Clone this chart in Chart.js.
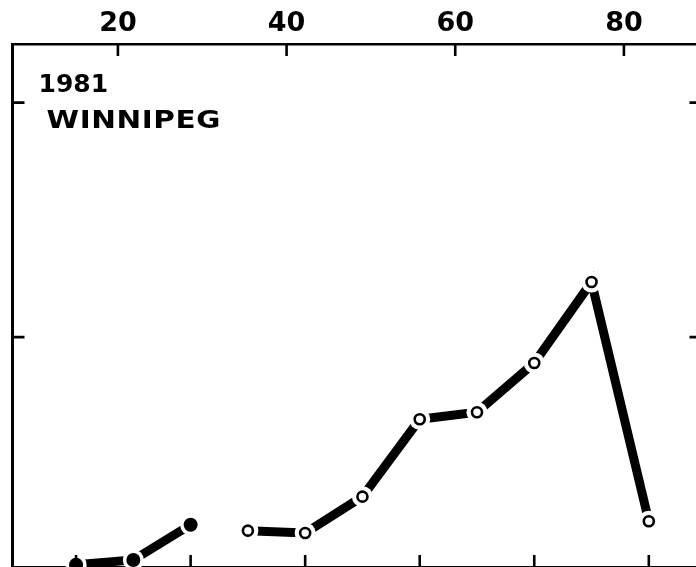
<!DOCTYPE html>
<html>
<head>
<meta charset="utf-8">
<script src="https://cdn.jsdelivr.net/npm/chart.js@4/dist/chart.umd.min.js"></script>
<style>
  html, body { margin: 0; padding: 0; overflow: hidden; background: #fff; width: 696px; height: 567px; }
  canvas { position: absolute; left: 0; top: 0; }
</style>
</head>
<body>
<canvas id="c" width="712" height="580"></canvas>
<script>
// Sample number along the bottom scale and the measured level at each sample
const earlySamples = [1, 2, 3];
const earlyValues = [0.03, 0.05, 0.20];
const lateSamples = [4, 5, 6, 7, 8, 9, 10, 11];
const lateValues = [0.175, 0.165, 0.32, 0.65, 0.68, 0.89, 1.235, 0.215];

// Tick positions on each frame side
const sampleTicks = [1, 3, 5, 7, 9, 11];
const topTicks = [20, 40, 60, 80];
const levelTicks = [1, 2];

const titleLines = ['1981', 'WINNIPEG'];

const INK = '#000';
const PAPER = '#fff';
const TICK_LEN = 12;

function pts(xs, ys) {
  return xs.map((x, i) => ({ x: x, y: ys[i] }));
}

function setTicks(list) {
  return scale => { scale.ticks = list.map(v => ({ value: v })); };
}

// Inward tick marks on all four sides of the frame
const innerTicks = {
  id: 'innerTicks',
  afterDatasetsDraw(chart) {
    const { ctx, chartArea: a, scales } = chart;
    ctx.save();
    ctx.strokeStyle = INK;
    ctx.lineWidth = 2.6;
    ctx.lineCap = 'butt';
    ctx.beginPath();
    sampleTicks.forEach(v => {
      const px = scales.x.getPixelForValue(v);
      ctx.moveTo(px, a.bottom); ctx.lineTo(px, a.bottom - TICK_LEN);
    });
    topTicks.forEach(v => {
      const px = scales.x2.getPixelForValue(v);
      ctx.moveTo(px, a.top); ctx.lineTo(px, a.top + TICK_LEN);
    });
    levelTicks.forEach(v => {
      const py = scales.y.getPixelForValue(v);
      ctx.moveTo(a.left, py); ctx.lineTo(a.left + TICK_LEN, py);
      ctx.moveTo(a.right, py); ctx.lineTo(a.right - TICK_LEN, py);
    });
    ctx.stroke();
    ctx.restore();
  }
};

// Station label in the upper left corner of the frame
const stationLabel = {
  id: 'stationLabel',
  afterDatasetsDraw(chart) {
    const { ctx, chartArea: a } = chart;
    ctx.save();
    ctx.fillStyle = INK;
    ctx.textAlign = 'left';
    ctx.textBaseline = 'alphabetic';
    ctx.font = 'bold 25px "DejaVu Sans"';
    ctx.fillText(titleLines[0], a.left + 26, 92);
    ctx.translate(a.left + 34, 128);
    ctx.scale(1.18, 1);
    ctx.letterSpacing = '0.5px';
    ctx.fillText(titleLines[1], 0, 0);
    ctx.restore();
  }
};

const sideAxis = (position, width) => ({
  type: 'linear',
  position: position,
  min: 0.02,
  max: 2.25,
  grid: { display: false },
  border: { display: true, color: INK, width: 3 },
  ticks: { display: false },
  afterBuildTicks: setTicks(levelTicks),
  afterFit: s => { s.width = width; }
});

const lineSet = (xs, ys) => ({
  data: pts(xs, ys),
  borderColor: INK, borderWidth: 9, borderCapStyle: 'butt', borderJoinStyle: 'miter',
  pointRadius: 0, tension: 0, order: 3, xAxisID: 'x', yAxisID: 'y'
});

// White disc under each marker that opens a small gap in the line
const haloSet = (xs, ys) => ({
  data: pts(xs, ys),
  showLine: false,
  pointRadius: 10.5, pointBackgroundColor: PAPER, pointBorderWidth: 0,
  order: 2, xAxisID: 'x', yAxisID: 'y'
});

new Chart(document.getElementById('c'), {
  type: 'line',
  data: {
    datasets: [
      lineSet(earlySamples, earlyValues),
      lineSet(lateSamples, lateValues),
      haloSet(earlySamples, earlyValues),
      haloSet(lateSamples, lateValues),
      {
        data: pts(earlySamples, earlyValues),
        showLine: false,
        pointRadius: 7, pointBackgroundColor: INK, pointBorderWidth: 0,
        order: 1, xAxisID: 'x', yAxisID: 'y'
      },
      {
        data: pts(lateSamples, lateValues),
        showLine: false,
        pointRadius: 5, pointBackgroundColor: PAPER,
        pointBorderColor: INK, pointBorderWidth: 2.6,
        order: 1, xAxisID: 'x', yAxisID: 'y'
      }
    ]
  },
  options: {
    responsive: false,
    animation: false,
    layout: { padding: 0 },
    plugins: { legend: { display: false }, tooltip: { enabled: false } },
    scales: {
      x: {
        type: 'linear', position: 'bottom',
        min: -0.11, max: 11.92,
        grid: { display: false },
        border: { display: true, color: INK, width: 3 },
        ticks: { display: false },
        afterBuildTicks: setTicks(sampleTicks),
        afterFit: s => { s.height = 13; }
      },
      x2: {
        type: 'linear', position: 'top',
        min: 7.5, max: 89.2,
        grid: { display: false },
        border: { display: true, color: INK, width: 2.6 },
        ticks: {
          color: INK, padding: -4, maxRotation: 0, autoSkip: false,
          font: { family: 'DejaVu Sans', weight: 'bold', size: 27 }
        },
        afterBuildTicks: setTicks(topTicks),
        afterFit: s => { s.height = 44; }
      },
      y: sideAxis('left', 12.5),
      y2: sideAxis('right', 7)
    }
  },
  plugins: [innerTicks, stationLabel]
});
</script>
</body>
</html>
